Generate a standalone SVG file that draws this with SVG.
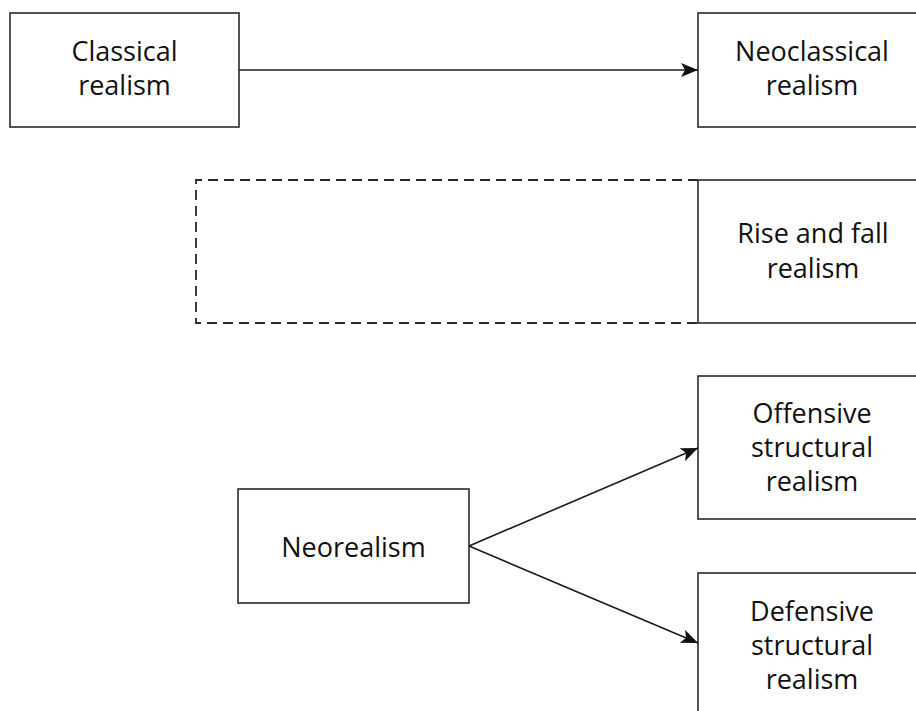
<svg xmlns="http://www.w3.org/2000/svg" width="916" height="711" viewBox="0 0 916 711">
<style>
.box{fill:#fff;stroke:#2a2a2a;stroke-width:1.6}
.dash{fill:none;stroke:#2a2a2a;stroke-width:1.8;stroke-dasharray:10 6}
.lbl{font-family:"Open Sans","Noto Sans","Liberation Sans",sans-serif;font-size:27px;fill:#111;text-anchor:middle}
.conn{stroke:#1a1a1a;stroke-width:1.6;fill:none;marker-end:url(#ah)}
</style>
<defs>
<marker id="ah" markerWidth="18" markerHeight="14" refX="17" refY="7" orient="auto" markerUnits="userSpaceOnUse">
<path d="M0,0 L17,7 L0,14 L4,7 Z" fill="#111"/>
</marker>
</defs>
<rect width="916" height="711" fill="#fff"/>
<g id="rise-fall-extent">
<path class="dash" d="M698,180 H196 V323 H698"/>
</g>
<g id="classical">
<rect class="box" x="10" y="13" width="229" height="114"/>
<text class="lbl" x="124.5" y="61">Classical</text>
<text class="lbl" x="124.5" y="95">realism</text>
</g>
<g id="neoclassical">
<rect class="box" x="698" y="13" width="229" height="114"/>
<text class="lbl" x="812" y="61">Neoclassical</text>
<text class="lbl" x="812" y="95">realism</text>
</g>
<g id="risefall">
<rect class="box" x="698" y="180" width="229" height="143"/>
<text class="lbl" x="813" y="243">Rise and fall</text>
<text class="lbl" x="813" y="278">realism</text>
</g>
<g id="neorealism">
<rect class="box" x="238" y="489" width="231" height="114"/>
<text class="lbl" x="353.5" y="557">Neorealism</text>
</g>
<g id="offensive">
<rect class="box" x="698" y="376" width="229" height="143"/>
<text class="lbl" x="812" y="423">Offensive</text>
<text class="lbl" x="812" y="457">structural</text>
<text class="lbl" x="812" y="491">realism</text>
</g>
<g id="defensive">
<rect class="box" x="698" y="573" width="229" height="160"/>
<text class="lbl" x="812" y="621">Defensive</text>
<text class="lbl" x="812" y="655">structural</text>
<text class="lbl" x="812" y="689">realism</text>
</g>
<g id="connectors">
<line class="conn" x1="239" y1="70" x2="698" y2="70"/>
<line class="conn" x1="469" y1="546" x2="698" y2="448"/>
<line class="conn" x1="469" y1="546" x2="698" y2="643"/>
</g>
</svg>
